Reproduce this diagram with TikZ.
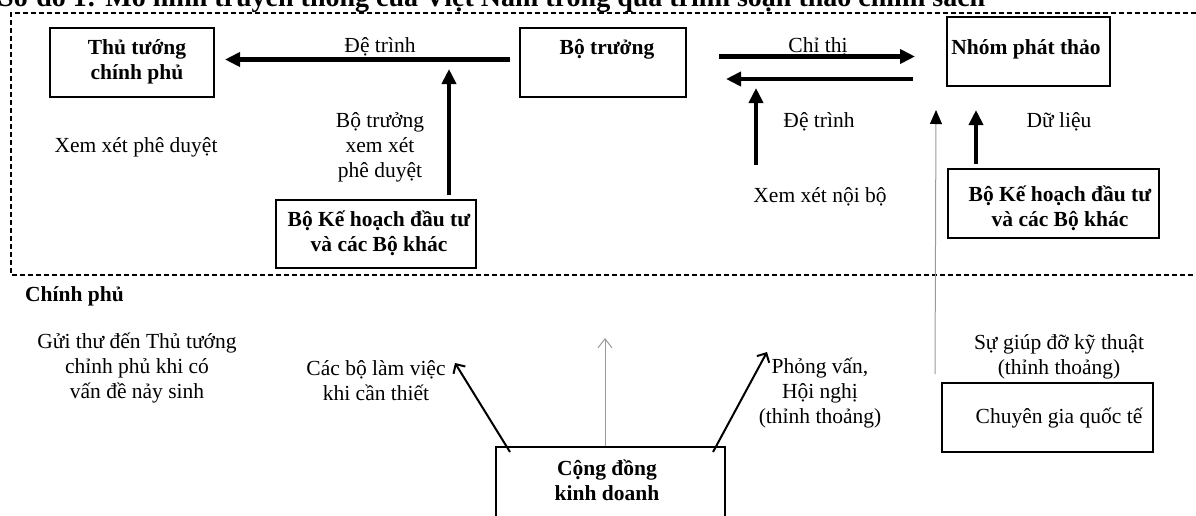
\documentclass[tikz,border=0pt]{standalone}
\usepackage{fontspec}
\setmainfont{Liberation Serif}
\usetikzlibrary{arrows.meta,calc}
\begin{document}
\begin{tikzpicture}[x=1pt,y=-1pt,
  box/.style={draw, line width=2pt, inner sep=0pt},
  lab/.style={font=\fontsize{21.5}{25}\selectfont, align=center, inner sep=0pt},
  blab/.style={font=\fontsize{21.5}{25}\selectfont\bfseries, align=center, inner sep=0pt},
  thk/.style={line width=4.5pt, -{Triangle[length=15pt,width=14pt]}},
  thn/.style={line width=2pt, -{Straight Barb[length=7pt,width=14pt]}},
  gryv/.style={draw=gray!80, line width=1pt, -{Straight Barb[length=9pt,width=14pt]}},
  gryf/.style={draw=gray!80, line width=1pt, -{Triangle[length=14pt,width=12pt,fill=black,color=black]}},
  frame/.style={line width=2pt, dash pattern=on 5pt off 3pt}]
\useasboundingbox (0,0) rectangle (1196,515);
% title (cut by the page top)
\node[anchor=base west, inner sep=0pt, font=\fontsize{28}{32}\selectfont\bfseries] (title) at (-2,6)
  {Sơ đồ 1: Mô hình truyền thông của Việt Nam trong quá trình soạn thảo chính sách};
% dashed government frame
\draw[frame] (1196,13) -- (11,13) -- (11,275) -- (1196,275);
% boxes
\node[box, minimum width=164pt, minimum height=69pt] (tt) at (132,62.5) {};
\node[box, minimum width=166pt, minimum height=69pt] (bt) at (603,62.5) {};
\node[box, minimum width=163pt, minimum height=69pt] (nh) at (1028.5,51.5) {};
\node[box, minimum width=200pt, minimum height=68pt] (kh1) at (376,234) {};
\node[box, minimum width=211pt, minimum height=69pt] (kh2) at (1053.5,203.5) {};
\node[box, minimum width=211pt, minimum height=69pt] (cg) at (1047.5,417.5) {};
\node[box, minimum width=229pt, minimum height=113pt] (cd) at (610.5,503.5) {};
% box texts
\node[blab] (ttx) at (137,62) {Thủ tướng\\chính phủ};
\node[blab] (btx) at (607,49) {Bộ trưởng};
\node[blab] (nhx) at (1026,49) {Nhóm phát thảo};
\node[blab] (k1x) at (379,233) {Bộ Kế hoạch đầu tư\\và các Bộ khác};
\node[blab] (k2x) at (1060,208) {Bộ Kế hoạch đầu tư\\và các Bộ khác};
\node[lab] (cgx) at (1059,418) {Chuyên gia quốc tế};
\node[blab] (cdx) at (607,480) {Cộng đồng\\kinh doanh};
% labels
\node[lab] (l1) at (380,47) {Đệ trình};
\node[lab] (l2) at (818,47) {Chỉ thị};
\node[lab] (l3) at (819,122) {Đệ trình};
\node[lab] (l4) at (1059,122) {Dữ liệu};
\node[lab] (l5) at (136,147) {Xem xét phê duyệt};
\node[lab] (l6) at (380,147) {Bộ trưởng\\xem xét\\phê duyệt};
\node[lab] (l7) at (820,197) {Xem xét nội bộ};
\node[blab, anchor=west] (l8) at (25,296) {Chính phủ};
\node[lab] (l9) at (137,368) {Gửi thư đến Thủ tướng\\chỉnh phủ khi có\\vấn đề nảy sinh};
\node[lab] (l10) at (376,381) {Các bộ làm việc\\khi cần thiết};
\node[lab] (l11) at (820,393) {Phỏng vấn,\\Hội nghị\\(thỉnh thoảng)};
\node[lab] (l12) at (1059,357) {Sự giúp đỡ kỹ thuật\\(thỉnh thoảng)};
% free ends
\coordinate (t1) at (449,69);
\coordinate (b2) at (756,165);
\coordinate (t2) at (756,88);
\coordinate (t3) at (936,110);
\coordinate (t4) at (976,110);
\coordinate (t5) at (455,363);
\coordinate (t6) at (605,338);
\coordinate (t7) at (767,352);
% connectors
\draw[thk] ($(bt.west)+(-9,-3)$) -- ($(tt.east)+(10,-3)$);
\draw[thk] ($(bt.east)+(32,-6)$) -- ($(nh.west)+(-31,5)$);
\draw[thk] ($(nh.west)+(-33,27.5)$) -- ($(bt.east)+(39,16.5)$);
\draw[thk] ($(kh1.north)+(73,-4)$) -- (t1);
\draw[thk] (b2) -- (t2);
\draw[gryf] ($(cg.north west)+(-6,-8)$) -- (t3);
\draw[thk] ($(kh2.north)+(-77.5,-4)$) -- (t4);
\draw[thn] ($(cd.north west)+(15,6)$) -- (t5);
\draw[gryv] (cd.north -| t6) -- (t6);
\draw[thn] ($(cd.north east)+(-13,6)$) -- (t7);
\end{tikzpicture}
\end{document}
